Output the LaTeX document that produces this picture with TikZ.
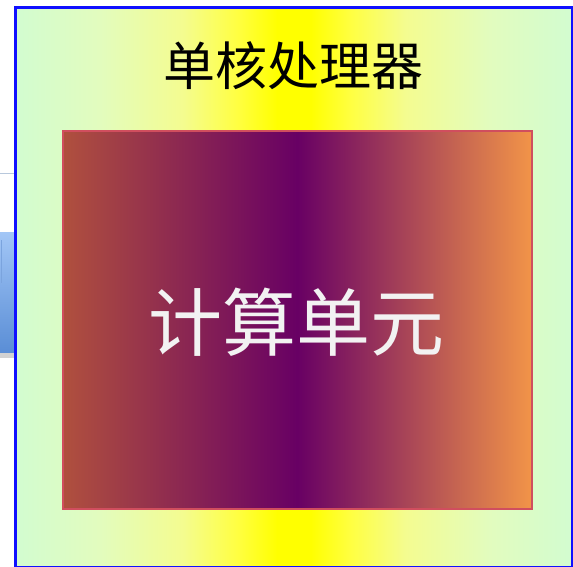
\documentclass[tikz,border=0pt]{standalone}
\usepackage{fontspec}
\newfontfamily\cjk{Noto Sans CJK SC}
\definecolor{edgegreen}{HTML}{D2FCD0}
\definecolor{paleA}{HTML}{E2FCBE}
\definecolor{paleB}{HTML}{F4FC90}
\definecolor{paleC}{HTML}{FFFF40}
\definecolor{midyellow}{HTML}{FFFF00}
\definecolor{outerblue}{HTML}{1010FF}
\definecolor{brick}{HTML}{B0503E}
\definecolor{plum}{HTML}{680064}
\definecolor{orangeR}{HTML}{F29448}
\definecolor{innerline}{HTML}{D04E5E}
\definecolor{blueTop}{HTML}{A2C6F6}
\definecolor{blueBot}{HTML}{5A8ED6}
\definecolor{paleline}{HTML}{B8C8DC}
\definecolor{textwhite}{HTML}{F2F2F2}
\pgfdeclarehorizontalshading{procshade}{100bp}{color(0bp)=(edgegreen); color(25bp)=(edgegreen); color(32.5bp)=(paleA); color(40bp)=(paleB); color(45bp)=(paleC); color(48.5bp)=(midyellow); color(51.5bp)=(midyellow); color(55bp)=(paleC); color(60bp)=(paleB); color(67.5bp)=(paleA); color(75bp)=(edgegreen); color(100bp)=(edgegreen)}
\tikzset{
  outerbox/.style={draw=outerblue, line width=3pt, shading=procshade, minimum width=557pt, minimum height=560pt, inner sep=0pt, anchor=north west},
  innerbox/.style={draw=innerline, line width=1.6pt, left color=brick, right color=orangeR, middle color=plum, minimum width=469pt, minimum height=378pt, inner sep=0pt, anchor=north west},
  paletab/.style={draw=paleline, line width=0.8pt, fill=white, minimum width=20pt, minimum height=60pt, inner sep=0pt, anchor=north west},
  bluetab/.style={top color=blueTop, bottom color=blueBot, minimum width=20pt, minimum height=120pt, inner sep=0pt, anchor=north west},
}
\begin{document}
\begin{tikzpicture}[x=1pt,y=-1pt]
\useasboundingbox (0,0) rectangle (573,567);
% partially hidden shape at left
\fill[gray!35] (0,350) rectangle (14,358);
\node[paletab] (tab) at (-6,173) {};
\node[bluetab] (blue) at (-6,232) {};
\draw[blueBot!80, line width=0.6pt] (1,240) -- (1,283);
% outer processor box
\node[outerbox] (proc) at (14,6) {};
\node[font=\cjk\fontsize{52}{56}\selectfont, text=black] (title) at (293,66) {单核处理器};
% compute unit
\node[innerbox] (cu) at (62,130) {};
\node[font=\cjk\fontsize{74}{78}\selectfont, text=textwhite] (cutext) at (296,322) {计算单元};
\end{tikzpicture}
\end{document}
